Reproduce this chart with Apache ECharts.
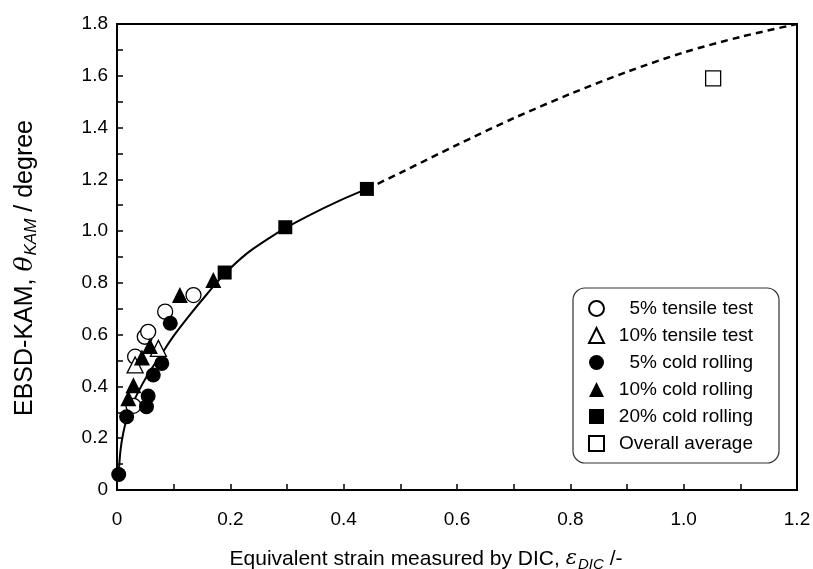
<!DOCTYPE html>
<html>
<head>
<meta charset="utf-8">
<script src="https://cdn.jsdelivr.net/npm/echarts@6/dist/echarts.min.js"></script>
<style>
html, body { margin: 0; padding: 0; background: #fff; }
#chart { width: 813px; height: 569px; }
</style>
</head>
<body>
<div id="chart"></div>
<script>
// points: [strain, KAM]
var tensile5 = [[0.029, 0.325], [0.032, 0.515], [0.049, 0.592], [0.055, 0.611], [0.085, 0.689], [0.135, 0.753]];
var tensile10 = [[0.032, 0.483], [0.073, 0.547]];
var cold5 = [[0.003, 0.06], [0.017, 0.283], [0.052, 0.322], [0.055, 0.363], [0.064, 0.444], [0.079, 0.489], [0.094, 0.644]];
var cold10 = [[0.02, 0.354], [0.029, 0.405], [0.044, 0.512], [0.058, 0.556], [0.111, 0.753], [0.17, 0.811]];
var cold20 = [[0.19, 0.84], [0.297, 1.015], [0.441, 1.163]];
var overall = [[1.052, 1.59]];
// fitted curve, solid over the measured range, dashed beyond
var fitSolid = [[0.003, 0.06], [0.006, 0.15], [0.011, 0.22], [0.018, 0.28], [0.03, 0.345], [0.045, 0.41],
	[0.06, 0.465], [0.08, 0.53], [0.10, 0.595], [0.13, 0.68], [0.16, 0.76], [0.19, 0.835], [0.23, 0.915],
	[0.27, 0.975], [0.30, 1.015], [0.34, 1.062], [0.39, 1.115], [0.441, 1.163]];
var fitDashed = [[0.441, 1.163], [0.5, 1.225], [0.6, 1.333], [0.7, 1.436], [0.8, 1.53], [0.9, 1.615],
	[1.0, 1.69], [1.1, 1.75], [1.2, 1.80]];

var FONT = 'Liberation Sans';
var chart = echarts.init(document.getElementById('chart'));

function fmt(v) {
	return v === 0 ? '0' : v.toFixed(1);
}

var openStyle = { color: '#fff', borderColor: '#000', borderWidth: 1.3, opacity: 1 };
var filledStyle = { color: '#000', borderColor: '#000', borderWidth: 0, opacity: 1 };

var option = {
	backgroundColor: '#fff',
	animation: false,
	textStyle: { fontFamily: FONT, color: '#000' },
	grid: {
		left: 117, right: 16, top: 24, bottom: 79,
		outerBoundsMode: 'none', containLabel: false,
		show: true, borderColor: '#000', borderWidth: 2, backgroundColor: 'transparent'
	},
	legend: {
		left: 573, top: 288,
		orient: 'vertical',
		data: ['5% tensile test', '10% tensile test', '5% cold rolling', '10% cold rolling', '20% cold rolling', 'Overall average'],
		backgroundColor: '#fff',
		borderColor: '#333', borderWidth: 1.2, borderRadius: 12,
		padding: [11, 26, 10, 15],
		itemWidth: 15, itemHeight: 15, itemGap: 8,
		formatter: function (name) { return '{t|' + name + '}'; },
		textStyle: {
			fontFamily: FONT, fontSize: 19, color: '#000',
			rich: { t: { width: 144, align: 'right', fontFamily: FONT, fontSize: 19, color: '#000' } }
		}
	},
	xAxis: {
		type: 'value', min: 0, max: 1.2, interval: 0.2,
		name: '{n|Equivalent strain measured by DIC, }{e|ε}{s|DIC}{n| /-}',
		nameLocation: 'middle', nameGap: 56,
		nameTextStyle: {
			padding: [0, 62, 0, 0],
			rich: {
				n: { fontFamily: FONT, fontSize: 21, color: '#000', lineHeight: 26 },
				e: { fontFamily: 'DejaVu Serif', fontStyle: 'italic', fontSize: 21, color: '#000', lineHeight: 26 },
				s: { fontFamily: FONT, fontStyle: 'italic', fontSize: 15, color: '#000', lineHeight: 26, verticalAlign: 'bottom', padding: [0, 0, 0, 1] }
			}
		},
		axisLine: { show: true, lineStyle: { color: '#000', width: 2 } },
		axisTick: { show: true, inside: true, length: 6, lineStyle: { color: '#000', width: 1.5 } },
		minorTick: { show: true, splitNumber: 2, length: 6, lineStyle: { color: '#000', width: 1.5 } },
		splitLine: { show: false },
		axisLabel: { fontFamily: FONT, fontSize: 19, color: '#000', margin: 20, formatter: fmt }
	},
	yAxis: {
		type: 'value', min: 0, max: 1.8, interval: 0.2,
		name: '{n|EBSD-KAM, }{e|θ}{s|KAM}{n| / degree}',
		nameLocation: 'middle', nameGap: 77,
		nameTextStyle: {
			padding: [0, 22, 0, 0],
			rich: {
				n: { fontFamily: FONT, fontSize: 25, color: '#000', lineHeight: 30 },
				e: { fontFamily: 'DejaVu Serif', fontStyle: 'italic', fontSize: 25, color: '#000', lineHeight: 30 },
				s: { fontFamily: FONT, fontStyle: 'italic', fontSize: 17, color: '#000', lineHeight: 30, verticalAlign: 'bottom', padding: [0, 0, 0, 1] }
			}
		},
		axisLine: { show: true, lineStyle: { color: '#000', width: 2 } },
		axisTick: { show: true, inside: true, length: 6, lineStyle: { color: '#000', width: 1.5 } },
		minorTick: { show: true, splitNumber: 2, length: 6, lineStyle: { color: '#000', width: 1.5 } },
		splitLine: { show: false },
		axisLabel: { fontFamily: FONT, fontSize: 19, color: '#000', margin: 9, formatter: fmt }
	},
	series: [
		{
			name: 'fit', type: 'line', data: fitSolid, smooth: 0.3, showSymbol: false, z: 1,
			lineStyle: { color: '#000', width: 2 }
		},
		{
			name: 'fit2', type: 'line', data: fitDashed, smooth: 0.3, showSymbol: false, z: 1,
			lineStyle: { color: '#000', width: 2.5, type: [7, 5] }
		},
		{
			name: '5% tensile test', type: 'scatter', data: tensile5, symbol: 'circle', symbolSize: 15, z: 2,
			itemStyle: openStyle
		},
		{
			name: '10% tensile test', type: 'scatter', data: tensile10, symbol: 'triangle', symbolSize: 16, z: 2,
			itemStyle: openStyle
		},
		{
			name: '5% cold rolling', type: 'scatter', data: cold5, symbol: 'circle', symbolSize: 15, z: 3,
			itemStyle: filledStyle
		},
		{
			name: '10% cold rolling', type: 'scatter', data: cold10, symbol: 'triangle', symbolSize: 16, z: 3,
			itemStyle: filledStyle
		},
		{
			name: '20% cold rolling', type: 'scatter', data: cold20, symbol: 'rect', symbolSize: 14, z: 3,
			itemStyle: filledStyle
		},
		{
			name: 'Overall average', type: 'scatter', data: overall, symbol: 'rect', symbolSize: 15, z: 3,
			itemStyle: openStyle
		}
	]
};
chart.setOption(option);
</script>
</body>
</html>
